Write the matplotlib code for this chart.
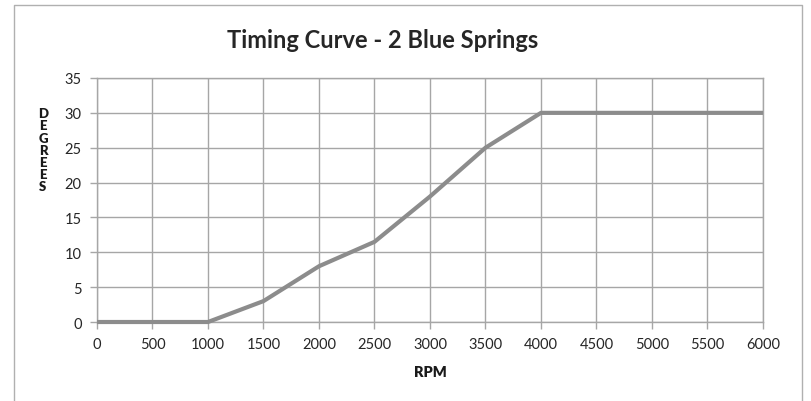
import matplotlib
matplotlib.use("Agg")
import matplotlib.pyplot as plt
from matplotlib.lines import Line2D

plt.rcParams['font.family'] = ['Lato', 'DejaVu Sans']

rpm = [0, 500, 1000, 1500, 2000, 2500, 3000, 3500, 4000, 4500, 5000, 5500, 6000]
degrees = [0, 0, 0, 3, 8, 11.5, 18, 25, 30, 30, 30, 30, 30]
xticks = list(range(0, 6001, 500))
yticks = list(range(0, 36, 5))

grid_col = '#a6a6a6'
line_col = '#8c8c8c'
text_col = '#262626'

fig = plt.figure(figsize=(8.11, 4.02), dpi=100)
ax = fig.add_axes([0.1196, 0.1965, 0.8212, 0.607])

ax.plot(rpm, degrees, color=line_col, linewidth=3.0, solid_capstyle='butt', clip_on=False, zorder=3)

ax.set_xlim(0, 6000)
ax.set_ylim(0, 35)
ax.set_xticks(xticks)
ax.set_yticks(yticks)
ax.grid(color=grid_col, linewidth=1.0)
ax.set_axisbelow(True)
for s in ax.spines.values():
    s.set_color(grid_col)
    s.set_linewidth(1.0)
ax.tick_params(axis='both', colors=grid_col, length=5, width=1.0, labelcolor=text_col, labelsize=10.5)
ax.tick_params(axis='x', pad=6)
ax.tick_params(axis='y', pad=6)

ax.set_xlabel("RPM", fontsize=10.5, fontweight='heavy', color='#1a1a1a', labelpad=10)
fig.text(0.053, 0.625, "\n".join("DEGREES"), fontsize=9.5, fontweight='heavy', color='#1a1a1a',
         ha='center', va='center', linespacing=1.02)
fig.text(0.472, 0.90, "Timing Curve - 2 Blue Springs", fontsize=17, fontweight='bold',
         color=text_col, ha='center', va='center')

# chart frame (left, top, right edges visible)
x0, x1, y1 = 13.5 / 811, 802 / 811, 1 - 6 / 402
fig.add_artist(Line2D([x0, x0, x1, x1], [0, y1, y1, 0], transform=fig.transFigure,
                      color='#b0b0b0', linewidth=1.0))

fig.savefig("out.png", dpi=100)
